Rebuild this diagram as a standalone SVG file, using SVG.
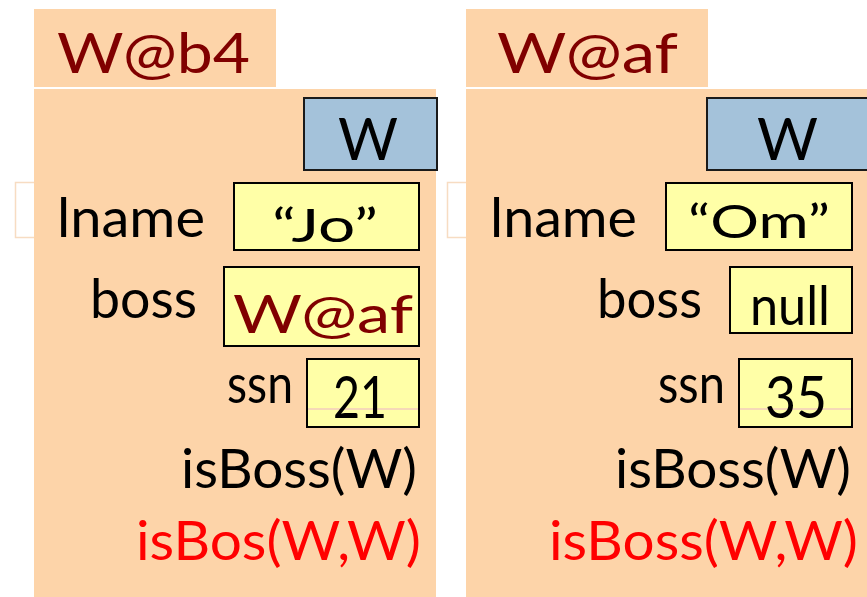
<svg xmlns="http://www.w3.org/2000/svg" width="867" height="597" viewBox="0 0 867 597">
<style>
.panel{fill:#fdd4a9}
.ghost{fill:#ffffff;stroke:#f7dcc2;stroke-width:1.5}
.cls{fill:#a4c2da;stroke:#1a1a1a;stroke-width:2}
.val{fill:#ffffa7;stroke:#000;stroke-width:2}
.seam{stroke:#f6d9b7;stroke-width:2}
text{font-family:Lato,"Liberation Sans",sans-serif}
.t{fill:#000;font-size:54px}
.q{fill:#000;font-size:47px}
.big{fill:#000;font-size:58px}
.ref{fill:#800000;font-size:56px}
.refs{fill:#800000;font-size:53px}
.red{fill:#ff0000;font-size:54px}
</style>
<rect class="ghost" x="15.5" y="182.5" width="40" height="55"/>
<rect class="ghost" x="447.5" y="182.5" width="40" height="55"/>
<g id="objB4">
<rect class="panel" x="34" y="9" width="242" height="78"/>
<rect class="panel" x="34" y="89" width="402" height="508"/>
<text class="ref" x="57" y="73" textLength="193" lengthAdjust="spacingAndGlyphs">W@b4</text>
<rect class="cls" x="304" y="98" width="133" height="72"/>
<text class="big" x="338" y="160" textLength="60" lengthAdjust="spacingAndGlyphs">W</text>
<text class="t" x="57" y="237" textLength="148" lengthAdjust="spacingAndGlyphs">lname</text>
<rect class="val" x="234" y="183" width="185" height="67"/>
<text class="q" x="272" y="242" textLength="106" lengthAdjust="spacingAndGlyphs">“Jo”</text>
<text class="t" x="90" y="318" textLength="107" lengthAdjust="spacingAndGlyphs">boss</text>
<rect class="val" x="224" y="267" width="195" height="79"/>
<text class="refs" x="233" y="333" textLength="180" lengthAdjust="spacingAndGlyphs">W@af</text>
<text class="t" x="227" y="403" textLength="66" lengthAdjust="spacingAndGlyphs">ssn</text>
<rect class="val" x="307" y="359" width="112" height="68"/>
<line class="seam" x1="308" y1="409" x2="418" y2="409"/>
<text class="big" x="333" y="418" textLength="54" lengthAdjust="spacingAndGlyphs">21</text>
<text class="t" x="181" y="488" textLength="236" lengthAdjust="spacingAndGlyphs">isBoss(W)</text>
<text class="red" x="136" y="560" textLength="285" lengthAdjust="spacingAndGlyphs">isBos(W,W)</text>
</g>
<g id="objAf">
<rect class="panel" x="466" y="9" width="242" height="78"/>
<rect class="panel" x="466" y="89" width="401" height="508"/>
<text class="ref" x="497" y="73" textLength="181" lengthAdjust="spacingAndGlyphs">W@af</text>
<rect class="cls" x="707" y="98" width="161" height="72"/>
<text class="big" x="757" y="160" textLength="61" lengthAdjust="spacingAndGlyphs">W</text>
<text class="t" x="490" y="237" textLength="147" lengthAdjust="spacingAndGlyphs">lname</text>
<rect class="val" x="666" y="183" width="186" height="67"/>
<text class="q" x="688" y="238" textLength="142" lengthAdjust="spacingAndGlyphs">“Om”</text>
<text class="t" x="597" y="318" textLength="105" lengthAdjust="spacingAndGlyphs">boss</text>
<rect class="val" x="730" y="267" width="122" height="66"/>
<text class="t" x="750" y="325" textLength="80" lengthAdjust="spacingAndGlyphs">null</text>
<text class="t" x="658" y="403" textLength="67" lengthAdjust="spacingAndGlyphs">ssn</text>
<rect class="val" x="739" y="359" width="113" height="68"/>
<line class="seam" x1="740" y1="409" x2="851" y2="409"/>
<text class="big" x="765" y="418" textLength="62" lengthAdjust="spacingAndGlyphs">35</text>
<text class="t" x="615" y="488" textLength="236" lengthAdjust="spacingAndGlyphs">isBoss(W)</text>
<text class="red" x="549" y="560" textLength="309" lengthAdjust="spacingAndGlyphs">isBoss(W,W)</text>
</g>
<g id="connectors"></g>
</svg>
